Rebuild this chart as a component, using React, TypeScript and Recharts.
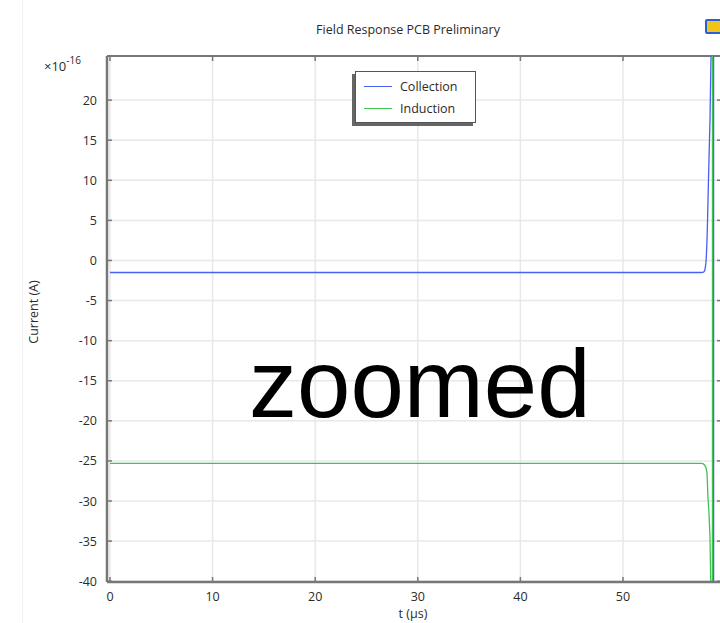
import React from 'react';
import { LineChart, Line, XAxis, YAxis, CartesianGrid, Legend, ReferenceLine } from 'recharts';

// Time axis in microseconds, current in units of 1e-16 A
const collectionT = [0, 57.6, 57.85, 57.95, 57.99, 58.04, 58.09, 58.14, 58.19, 58.26, 58.33, 58.4, 58.48, 58.58, 58.7, 58.83, 58.835, 59.6];
const collectionI = [-1.5, -1.5, -1.45, -1.3, -1.1, -0.7, -0.2, 1, 2.5, 6, 10, 13.5, 17.5, 25.5, 45, 90, -90, -90];

const inductionT = [0, 57.6, 57.8, 57.95, 58.08, 58.19, 58.28, 58.38, 58.48, 58.56, 58.72, 58.725, 59.6];
const inductionI = [-25.3, -25.3, -25.35, -25.5, -25.8, -26.5, -29.5, -31.5, -34.5, -41, -60, 60, 60];

const xTicks = [0, 10, 20, 30, 40, 50];
const yTicks = [-40, -35, -30, -25, -20, -15, -10, -5, 0, 5, 10, 15, 20];

const X_DOMAIN: [number, number] = [-0.29, 59.65];
const Y_DOMAIN: [number, number] = [-40.1, 25.5];

const collectionData = collectionT.map((t, i) => ({ t, v: collectionI[i] }));
const inductionData = inductionT.map((t, i) => ({ t, v: inductionI[i] }));

const CHART_W = 730;
const CHART_H = 623;
const PLOT_LEFT = 107;
const PLOT_RIGHT = 722;
const PLOT_TOP = 56;
const PLOT_BOTTOM = 582;

const FONT = '"Open Sans", "Noto Sans", sans-serif';
const TEXT = '#2b2b2b';
const FRAME = '#777';

const XTick = (props: any) => {
  const { x, payload } = props;
  return (
    <g>
      <line x1={x} x2={x} y1={PLOT_BOTTOM} y2={PLOT_BOTTOM - 5} stroke={FRAME} strokeWidth={1.5} />
      <line x1={x} x2={x} y1={PLOT_TOP} y2={PLOT_TOP + 5} stroke={FRAME} strokeWidth={1.5} />
      <text x={x} y={PLOT_BOTTOM + 19} textAnchor="middle" fontSize={12.5} fontFamily={FONT} fill={TEXT}>
        {payload.value}
      </text>
    </g>
  );
};

const YTick = (props: any) => {
  const { y, payload } = props;
  return (
    <g>
      <line x1={PLOT_LEFT} x2={PLOT_LEFT + 5} y1={y} y2={y} stroke={FRAME} strokeWidth={1.5} />
      <line x1={PLOT_RIGHT - 5} x2={PLOT_RIGHT} y1={y} y2={y} stroke={FRAME} strokeWidth={1.5} />
      <text x={PLOT_LEFT - 10} y={y + 4.5} textAnchor="end" fontSize={12.5} fontFamily={FONT} fill={TEXT}>
        {payload.value}
      </text>
    </g>
  );
};

const LegendBox = (props: any) => {
  const items = props.payload || [];
  return (
    <div
      style={{
        background: '#fff',
        border: '1px solid #555',
        boxShadow: '-3px 3px 0 #666',
        padding: '3px 8px 3px 8px',
        fontFamily: FONT,
        fontSize: 12.5,
        color: TEXT,
        width: 103,
      }}
    >
      {items.map((it: any) => (
        <div key={it.value} style={{ display: 'flex', alignItems: 'center', height: 22 }}>
          <span style={{ display: 'inline-block', width: 28, height: 0, borderTop: `1.5px solid ${it.color}`, marginRight: 8 }} />
          <span>{it.value}</span>
        </div>
      ))}
    </div>
  );
};

export default function App() {
  return (
    <div
      style={{
        position: 'absolute',
        left: 0,
        top: 0,
        width: 720,
        height: 623,
        overflow: 'hidden',
        background: '#fff',
        fontFamily: FONT,
      }}
    >
      <div style={{ position: 'absolute', left: 22, top: 0, width: 1, height: 623, background: '#f2f2f2' }} />
      <div
        style={{
          position: 'absolute',
          left: 258,
          top: 21,
          width: 300,
          textAlign: 'center',
          fontSize: 12.5,
          color: TEXT,
          whiteSpace: 'nowrap',
        }}
      >
        Field Response PCB Preliminary
      </div>
      <div
        style={{
          position: 'absolute',
          left: 705,
          top: 19,
          width: 13,
          height: 11,
          background: '#f2c41b',
          border: '2px solid #2b5fd9',
          borderRadius: 2,
        }}
      />
      <LineChart
        width={CHART_W}
        height={CHART_H}
        margin={{ top: PLOT_TOP, right: CHART_W - PLOT_RIGHT, bottom: 0, left: 0 }}
      >
        <CartesianGrid stroke="#e8e8e8" strokeWidth={1.5} />
        <XAxis
          dataKey="t"
          type="number"
          domain={X_DOMAIN}
          ticks={xTicks}
          allowDataOverflow
          height={CHART_H - PLOT_BOTTOM}
          axisLine={{ stroke: FRAME, strokeWidth: 2.5 }}
          tickLine={false}
          tick={<XTick />}
          interval={0}
        />
        <YAxis
          dataKey="v"
          type="number"
          domain={Y_DOMAIN}
          ticks={yTicks}
          allowDataOverflow
          width={PLOT_LEFT}
          axisLine={{ stroke: FRAME, strokeWidth: 2.5 }}
          tickLine={false}
          tick={<YTick />}
          interval={0}
        />
        <ReferenceLine y={Y_DOMAIN[1]} stroke={FRAME} strokeWidth={2} />
        <Legend
          layout="horizontal"
          verticalAlign="middle"
          align="center"
          content={<LegendBox />}
          wrapperStyle={{ position: 'absolute', left: 355, top: 71, width: 'auto', height: 'auto' }}
        />
        <Line
          data={collectionData}
          dataKey="v"
          name="Collection"
          type="linear"
          stroke="#4760f2"
          strokeWidth={1.3}
          dot={false}
          isAnimationActive={false}
        />
        <Line
          data={inductionData}
          dataKey="v"
          name="Induction"
          type="linear"
          stroke="#3fc44f"
          strokeWidth={1.3}
          dot={false}
          isAnimationActive={false}
        />
      </LineChart>
      <div style={{ position: 'absolute', left: 44, top: 55, fontSize: 13, color: TEXT, whiteSpace: 'nowrap' }}>
        ×10<sup style={{ fontSize: 10, position: 'relative', top: -2 }}>-16</sup>
      </div>
      <div
        style={{
          position: 'absolute',
          left: 33,
          top: 312,
          transform: 'translate(-50%, -50%) rotate(-90deg)',
          fontSize: 12.5,
          color: TEXT,
          whiteSpace: 'nowrap',
        }}
      >
        Current (A)
      </div>
      <div
        style={{
          position: 'absolute',
          left: 363,
          top: 607,
          width: 100,
          textAlign: 'center',
          fontSize: 12.5,
          lineHeight: '14px',
          color: TEXT,
        }}
      >
        t (µs)
      </div>
      <div
        style={{
          position: 'absolute',
          left: 249,
          top: 329,
          fontFamily: '"Liberation Sans", Arial, sans-serif',
          fontSize: 96,
          lineHeight: '110px',
          color: '#000',
          whiteSpace: 'nowrap',
        }}
      >
        zoomed
      </div>
    </div>
  );
}
